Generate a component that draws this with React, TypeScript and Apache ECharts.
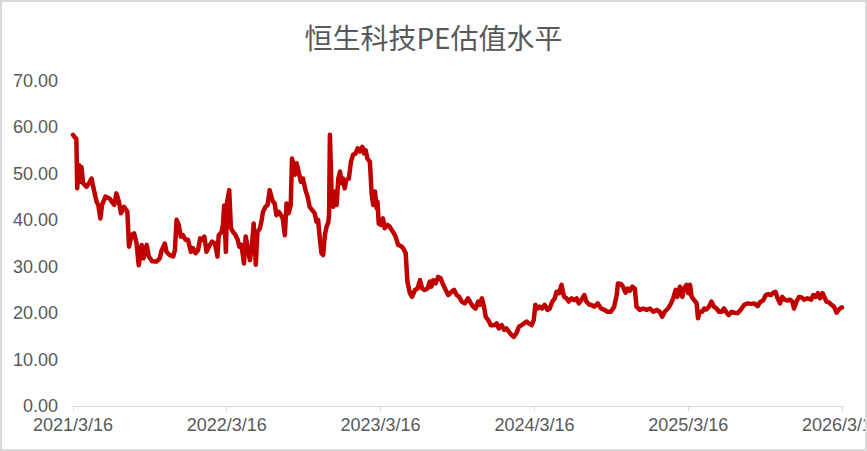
import { useEffect, useRef } from "react";
import * as echarts from "echarts";

const chartTitle = "恒生科技PE估值水平";

const xTickDates = ["2021-03-16", "2022-03-16", "2023-03-16", "2024-03-16", "2025-03-16", "2026-03-16"];
const yMin = 0;
const yMax = 70;
const yStep = 10;

const dates = [
  "2021-03-16", "2021-03-22", "2021-03-24", "2021-03-26", "2021-03-30", "2021-04-01", "2021-04-05", "2021-04-09", "2021-04-17", "2021-04-23",
  "2021-04-29", "2021-05-03", "2021-05-11", "2021-05-15", "2021-05-20", "2021-05-24", "2021-06-01", "2021-06-11", "2021-06-17", "2021-06-22",
  "2021-06-27", "2021-07-03", "2021-07-08", "2021-07-15", "2021-07-23", "2021-07-27", "2021-08-02", "2021-08-08", "2021-08-14", "2021-08-19",
  "2021-08-26", "2021-08-30", "2021-09-07", "2021-09-12", "2021-09-20", "2021-09-30", "2021-10-08", "2021-10-12", "2021-10-20", "2021-10-24",
  "2021-11-01", "2021-11-09", "2021-11-13", "2021-11-17", "2021-11-22", "2021-11-27", "2021-12-02", "2021-12-08", "2021-12-14", "2021-12-21",
  "2021-12-26", "2022-01-01", "2022-01-07", "2022-01-12", "2022-01-17", "2022-01-22", "2022-01-27", "2022-02-04", "2022-02-09", "2022-02-16",
  "2022-02-22", "2022-02-25", "2022-03-04", "2022-03-07", "2022-03-10", "2022-03-14", "2022-03-17", "2022-03-22", "2022-03-26", "2022-03-31",
  "2022-04-06", "2022-04-11", "2022-04-15", "2022-04-20", "2022-04-26", "2022-04-30", "2022-05-06", "2022-05-10", "2022-05-15", "2022-05-19",
  "2022-05-24", "2022-05-28", "2022-06-03", "2022-06-07", "2022-06-10", "2022-06-16", "2022-06-21", "2022-06-26", "2022-06-30", "2022-07-04",
  "2022-07-08", "2022-07-12", "2022-07-18", "2022-07-23", "2022-07-27", "2022-08-01", "2022-08-05", "2022-08-10", "2022-08-15", "2022-08-18",
  "2022-08-22", "2022-08-25", "2022-08-29", "2022-09-02", "2022-09-08", "2022-09-13", "2022-09-19", "2022-09-24", "2022-09-29", "2022-10-05",
  "2022-10-11", "2022-10-15", "2022-10-19", "2022-10-23", "2022-10-27", "2022-10-31", "2022-11-04", "2022-11-08", "2022-11-12", "2022-11-14",
  "2022-11-16", "2022-11-20", "2022-11-24", "2022-11-28", "2022-12-02", "2022-12-06", "2022-12-10", "2022-12-14", "2022-12-17", "2022-12-21",
  "2022-12-25", "2022-12-31", "2023-01-05", "2023-01-10", "2023-01-16", "2023-01-21", "2023-01-26", "2023-02-01", "2023-02-05", "2023-02-09",
  "2023-02-13", "2023-02-19", "2023-02-23", "2023-02-27", "2023-03-03", "2023-03-07", "2023-03-09", "2023-03-12", "2023-03-17", "2023-03-22",
  "2023-03-26", "2023-04-02", "2023-04-07", "2023-04-15", "2023-04-21", "2023-04-27", "2023-05-03", "2023-05-09", "2023-05-15", "2023-05-19",
  "2023-05-25", "2023-05-30", "2023-06-06", "2023-06-12", "2023-06-18", "2023-06-23", "2023-06-29", "2023-07-06", "2023-07-11", "2023-07-15",
  "2023-07-19", "2023-07-25", "2023-07-31", "2023-08-06", "2023-08-12", "2023-08-18", "2023-08-24", "2023-09-01", "2023-09-07", "2023-09-13",
  "2023-09-19", "2023-09-25", "2023-10-02", "2023-10-10", "2023-10-17", "2023-10-22", "2023-10-28", "2023-11-03", "2023-11-07", "2023-11-12",
  "2023-11-17", "2023-11-21", "2023-11-27", "2023-12-03", "2023-12-11", "2023-12-17", "2023-12-22", "2023-12-29", "2024-01-04", "2024-01-09",
  "2024-01-15", "2024-01-21", "2024-01-27", "2024-02-02", "2024-02-08", "2024-02-14", "2024-02-20", "2024-02-26", "2024-03-02", "2024-03-09",
  "2024-03-14", "2024-03-18", "2024-03-23", "2024-03-28", "2024-04-03", "2024-04-09", "2024-04-16", "2024-04-21", "2024-04-27", "2024-05-03",
  "2024-05-07", "2024-05-13", "2024-05-19", "2024-05-25", "2024-05-31", "2024-06-05", "2024-06-12", "2024-06-18", "2024-06-24", "2024-06-29",
  "2024-07-05", "2024-07-12", "2024-07-17", "2024-07-24", "2024-07-28", "2024-08-05", "2024-08-13", "2024-08-21", "2024-08-29", "2024-09-05",
  "2024-09-13", "2024-09-21", "2024-09-27", "2024-09-30", "2024-10-07", "2024-10-12", "2024-10-18", "2024-10-23", "2024-10-28", "2024-11-03",
  "2024-11-09", "2024-11-13", "2024-11-21", "2024-11-29", "2024-12-07", "2024-12-15", "2024-12-23", "2024-12-31", "2025-01-07", "2025-01-13",
  "2025-01-19", "2025-01-27", "2025-02-03", "2025-02-08", "2025-02-14", "2025-02-18", "2025-02-24", "2025-03-02", "2025-03-06", "2025-03-12",
  "2025-03-16", "2025-03-20", "2025-03-24", "2025-03-30", "2025-04-05", "2025-04-08", "2025-04-12", "2025-04-18", "2025-04-23", "2025-04-28",
  "2025-05-04", "2025-05-10", "2025-05-16", "2025-05-22", "2025-05-28", "2025-06-03", "2025-06-09", "2025-06-15", "2025-06-20", "2025-06-27",
  "2025-07-03", "2025-07-11", "2025-07-19", "2025-07-27", "2025-08-04", "2025-08-12", "2025-08-20", "2025-08-28", "2025-09-02", "2025-09-10",
  "2025-09-16", "2025-09-22", "2025-09-28", "2025-10-04", "2025-10-09", "2025-10-14", "2025-10-20", "2025-10-25", "2025-10-31", "2025-11-07",
  "2025-11-12", "2025-11-18", "2025-11-22", "2025-11-28", "2025-12-04", "2025-12-10", "2025-12-16", "2025-12-24", "2026-01-02", "2026-01-07",
  "2026-01-13", "2026-01-18", "2026-01-23", "2026-01-29", "2026-02-02", "2026-02-07", "2026-02-13", "2026-02-19", "2026-02-25", "2026-03-03",
  "2026-03-09", "2026-03-14", "2026-03-16",
];

const peValues = [
  58.4, 57.7, 57.5, 46.9, 51.9, 48.3, 51.5, 48.0, 47.2, 48.0,
  49.0, 47.2, 44.0, 43.3, 40.4, 43.3, 45.1, 44.7, 43.9, 43.3,
  45.8, 44.0, 41.5, 42.9, 41.9, 34.3, 36.8, 37.2, 35.0, 30.3,
  34.7, 31.8, 34.7, 32.2, 31.2, 31.1, 31.8, 33.4, 35.0, 33.2,
  32.5, 32.2, 33.6, 40.1, 39.0, 36.5, 36.8, 35.8, 35.8, 33.2,
  34.0, 32.9, 33.6, 36.1, 35.8, 36.5, 33.2, 34.7, 35.4, 35.0,
  32.2, 36.8, 37.5, 39.0, 43.2, 33.2, 44.0, 46.5, 38.3, 37.5,
  36.8, 35.8, 34.3, 34.7, 30.7, 36.5, 33.6, 31.4, 34.7, 39.3,
  30.4, 37.5, 38.3, 40.1, 41.8, 42.9, 43.3, 46.5, 45.1, 44.0,
  43.6, 41.1, 41.8, 41.1, 40.4, 36.8, 43.6, 41.5, 43.3, 53.3,
  51.9, 49.8, 52.3, 50.8, 48.3, 49.0, 46.5, 45.1, 42.9, 42.2,
  41.5, 39.7, 40.1, 36.1, 32.9, 32.5, 36.8, 38.6, 39.5, 41.1,
  58.4, 46.2, 42.9, 46.2, 43.3, 49.0, 50.5, 48.0, 49.0, 46.9,
  48.7, 49.0, 52.6, 54.1, 54.4, 55.5, 54.8, 55.8, 54.4, 55.1,
  53.3, 52.6, 45.8, 43.3, 46.2, 42.6, 44.0, 39.3, 39.0, 40.4,
  38.3, 39.0, 38.6, 37.5, 36.5, 34.7, 34.5, 34.0, 32.9, 26.8,
  24.3, 23.5, 25.0, 25.3, 27.1, 25.3, 25.0, 25.3, 26.8, 25.7,
  27.1, 26.4, 27.8, 27.5, 26.1, 25.0, 23.9, 24.6, 25.0, 23.9,
  23.5, 22.5, 22.1, 23.2, 22.1, 21.4, 21.0, 22.5, 21.8, 23.2,
  21.4, 19.2, 18.5, 17.4, 17.4, 17.8, 16.7, 17.4, 16.4, 16.7,
  16.0, 15.3, 14.9, 15.7, 17.1, 17.4, 17.8, 18.2, 17.8, 17.4,
  18.5, 21.8, 21.0, 21.4, 21.0, 21.8, 20.7, 21.0, 22.5, 23.2,
  24.6, 24.3, 26.1, 23.5, 23.2, 22.5, 23.2, 22.8, 23.2, 22.1,
  22.8, 23.9, 22.5, 21.8, 21.8, 21.4, 22.1, 21.0, 20.7, 20.3,
  20.3, 21.4, 23.9, 26.4, 26.3, 25.7, 24.4, 25.3, 24.8, 25.7,
  25.3, 21.4, 20.7, 21.0, 20.7, 21.0, 20.3, 20.7, 20.3, 19.2,
  20.3, 21.0, 22.1, 23.2, 25.0, 23.5, 25.7, 23.5, 25.3, 26.1,
  24.3, 26.1, 23.5, 22.8, 22.1, 18.9, 20.3, 20.3, 21.0, 20.8,
  21.4, 22.5, 21.4, 21.0, 20.3, 20.3, 21.0, 20.1, 19.6, 20.3,
  20.1, 20.0, 20.8, 21.8, 22.1, 22.0, 22.1, 21.5, 22.3, 22.8,
  23.9, 24.1, 23.9, 24.4, 24.6, 23.2, 22.1, 23.5, 22.9, 22.7,
  22.9, 22.5, 21.0, 22.5, 23.5, 23.4, 22.9, 23.2, 22.9, 23.9,
  23.5, 24.3, 23.2, 24.3, 23.5, 22.5, 22.3, 21.8, 21.4, 20.1,
  20.8, 21.2, 21.2,
];

const toTs = (s: string) => Date.parse(s + "T00:00:00Z");
const fmtDate = (v: number) => {
  const d = new Date(v);
  return `${d.getUTCFullYear()}/${d.getUTCMonth() + 1}/${d.getUTCDate()}`;
};

export default function App() {
  const ref = useRef<HTMLDivElement>(null);
  useEffect(() => {
    document.body.style.margin = "0";
    if (!ref.current) return;
    const chart = echarts.init(ref.current, null, { renderer: "svg" });
    const tickVals = xTickDates.map(toTs);
    const n = Math.min(dates.length, peValues.length);
    const data: [number, number][] = [];
    for (let i = 0; i < n; i++) data.push([toTs(dates[i]), peValues[i]]);
    const labelFont = "'Liberation Sans', Arial, sans-serif";
    chart.setOption({
      animation: false,
      backgroundColor: "#ffffff",
      title: {
        text: chartTitle,
        left: "center",
        top: 18,
        textStyle: {
          fontSize: 28,
          fontWeight: "normal",
          color: "#595959",
          fontFamily: "'Noto Sans CJK SC', sans-serif",
        },
      },
      grid: { left: 73, right: 25, top: 81, bottom: 45, containLabel: false, outerBoundsMode: "none" },
      xAxis: {
        type: "value",
        min: tickVals[0],
        max: tickVals[tickVals.length - 1],
        axisLine: { show: true, lineStyle: { color: "#d9d9d9", width: 1 } },
        axisTick: { show: true, customValues: tickVals, length: 5, lineStyle: { color: "#d9d9d9" } },
        axisLabel: {
          customValues: tickVals,
          formatter: (v: number) => fmtDate(v),
          color: "#595959",
          fontSize: 18,
          margin: 10,
          fontFamily: labelFont,
        },
        splitLine: { show: false },
      },
      yAxis: {
        type: "value",
        min: yMin,
        max: yMax,
        interval: yStep,
        axisLine: { show: false },
        axisTick: { show: false },
        splitLine: { show: false },
        axisLabel: {
          formatter: (v: number) => v.toFixed(2),
          color: "#595959",
          fontSize: 18,
          margin: 15,
          fontFamily: labelFont,
        },
      },
      series: [
        {
          type: "line",
          data,
          showSymbol: false,
          symbol: "none",
          lineStyle: { color: "#C00000", width: 4.5, join: "round", cap: "round" },
          itemStyle: { color: "#C00000" },
        },
      ],
      graphic: [
        {
          type: "rect",
          shape: { x: 1, y: 1, width: 865, height: 449 },
          style: { fill: "none", stroke: "#d9d9d9", lineWidth: 2 },
          silent: true,
          z: 100,
        },
      ],
    });
    return () => chart.dispose();
  }, []);
  return <div ref={ref} style={{ width: 867, height: 451 }} />;
}
